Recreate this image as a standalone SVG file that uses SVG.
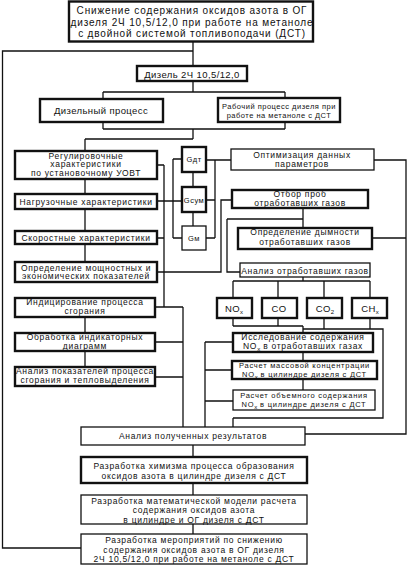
<svg xmlns="http://www.w3.org/2000/svg" width="409" height="567" viewBox="0 0 409 567">
<style>
  .bx{fill:#fff;stroke:#111;stroke-width:1.3}
  .bk{fill:#fff;stroke:#111;stroke-width:2.4}
  .ln{fill:none;stroke:#111;stroke-width:1.3}
  text{font-family:"Liberation Sans",Arial,sans-serif;fill:#111;text-anchor:middle}
  .t10{font-size:10px;letter-spacing:0.85px}
  .t9{font-size:9.5px;letter-spacing:0.4px}
  .t8{font-size:8.5px;letter-spacing:0.7px}
  .t7{font-size:7.5px;letter-spacing:0.5px}
  .t7w{font-size:7.5px;letter-spacing:0.75px}
  .sub{font-size:6px;letter-spacing:0}
</style>
<rect width="409" height="567" fill="#fff"/>
<g id="connectors" class="ln">
  <path d="M193 42V66M193 51H2.5V548H81"/>
  <path d="M193 81V92M103 92H285M103 92V99M285 92V98"/>
  <path d="M103 122V129M285 122V129M103 129H285M193 129V139M85 139H193M85 139V151"/>
  <path d="M85 179V194M85 209V231M85 244V262"/>
  <path d="M157 165H164M157 238H164M164 165V307M155 307H183M183 307V427M155 342H183M155 377H183"/>
  <path d="M157 201H182M173 159V238M173 159H182M173 238H182"/>
  <path d="M193 172V187M193 212V226"/>
  <path d="M206 160H231M215 160V238M206 200H215M206 238H215"/>
  <path d="M374 160H406V434H305M372 238H406"/>
  <path d="M232 200H221V272H157"/>
  <path d="M303 208V228M227 219H303M227 219V272H240"/>
  <path d="M303 277V281M233 281H370M233 281V298M278 281V298M324 281V298M370 281V298"/>
  <path d="M233 318V326M278 318V326M233 326H303M303 326V333M324 318V329M370 318V329M303 329H383V418H233M233 418V427"/>
  <path d="M303 352V361M303 379V390"/>
  <path d="M205 342V427M205 342H233M205 370H232M205 401H233"/>
  <path d="M85 317V333M85 351V367"/>
  <path d="M193 445V457M193 483V495M193 524V534"/>
</g>
<g id="n-top"><rect class="bk" x="69" y="1.5" width="244" height="40"/>
  <text class="t10" x="192" y="14">Снижение содержания оксидов азота в ОГ</text>
  <text class="t10" x="192" y="25.5">дизеля 2Ч 10,5/12,0 при работе на метаноле</text>
  <text class="t10" x="192" y="37">с двойной системой топливоподачи (ДСТ)</text></g>
<g id="n-diesel"><rect class="bk" x="137" y="66" width="110" height="15"/>
  <text class="t9" x="192" y="77.5">Дизель 2Ч 10,5/12,0</text></g>
<g id="n-dproc"><rect class="bk" x="40" y="99" width="123" height="23"/>
  <text class="t9" x="101" y="114">Дизельный процесс</text></g>
<g id="n-wproc"><rect class="bk" x="218" y="98" width="122" height="24"/>
  <text class="t7" x="279" y="108.5">Рабочий процесс дизеля при</text>
  <text class="t7" x="279" y="117.5">работе на метаноле с ДСТ</text></g>
<g id="n-reg"><rect class="bk" x="15" y="151" width="142" height="28"/>
  <text class="t8" x="86" y="158.5">Регулировочные</text>
  <text class="t8" x="86" y="167">характеристики</text>
  <text class="t8" x="86" y="175.5">по установочному УОВТ</text></g>
<g id="n-load"><rect class="bk" x="15" y="194" width="142" height="15"/>
  <text class="t8" x="86" y="205">Нагрузочные характеристики</text></g>
<g id="n-speed"><rect class="bk" x="15" y="231" width="142" height="13"/>
  <text class="t8" x="86" y="241">Скоростные характеристики</text></g>
<g id="n-power"><rect class="bk" x="15" y="262" width="142" height="20"/>
  <text class="t8" x="86" y="270.5">Определение мощностных и</text>
  <text class="t8" x="86" y="279">экономических показателей</text></g>
<g id="n-gdt"><rect class="bk" x="182" y="147" width="24" height="25"/>
  <text class="t7" x="194" y="162">Gдт</text></g>
<g id="n-gsum"><rect class="bk" x="182" y="187" width="24" height="25"/>
  <text class="t7" x="194" y="202.5">Gсум</text></g>
<g id="n-gm"><rect class="bx" x="182" y="226" width="24" height="24"/>
  <text class="t7" x="194" y="241">Gм</text></g>
<g id="n-opt"><rect class="bx" x="231" y="149" width="143" height="21"/>
  <text class="t8" x="302" y="158">Оптимизация данных</text>
  <text class="t8" x="302" y="166.5">параметров</text></g>
<g id="n-sample"><rect class="bk" x="232" y="190" width="136" height="18"/>
  <text class="t8" x="300" y="197">Отбор проб</text>
  <text class="t8" x="300" y="206">отработавших газов</text></g>
<g id="n-smoke"><rect class="bk" x="238" y="228" width="134" height="21"/>
  <text class="t8" x="305" y="235">Определение дымности</text>
  <text class="t8" x="305" y="244.5">отработавших газов</text></g>
<g id="n-gas"><rect class="bx" x="240" y="263" width="130" height="14"/>
  <text class="t8" x="305" y="273.5">Анализ отработавших газов</text></g>
<g id="n-nox"><rect class="bk" x="217" y="298" width="35" height="20"/>
  <text class="t9" x="234" y="311.5">NO<tspan class="sub" dy="2">x</tspan></text></g>
<g id="n-co"><rect class="bk" x="262" y="298" width="35" height="20"/>
  <text class="t9" x="279" y="311.5">CO</text></g>
<g id="n-co2"><rect class="bk" x="307" y="298" width="35" height="20"/>
  <text class="t9" x="325" y="311.5">CO<tspan class="sub" dy="2">2</tspan></text></g>
<g id="n-ch"><rect class="bk" x="352" y="298" width="35" height="20"/>
  <text class="t9" x="370" y="311.5">CH<tspan class="sub" dy="2">x</tspan></text></g>
<g id="n-study"><rect class="bk" x="233" y="333" width="140" height="19"/>
  <text class="t8" x="303" y="340">Исследование содержания</text>
  <text class="t8" x="303" y="349">NO<tspan class="sub" dy="1.5">x</tspan><tspan dy="-1.5"> в отработавших газах</tspan></text></g>
<g id="n-mass"><rect class="bk" x="232" y="361" width="145" height="18"/>
  <text class="t7w" x="304.5" y="368">Расчет массовой концентрации</text>
  <text class="t7w" x="304.5" y="377">NO<tspan class="sub" dy="1.5">x</tspan><tspan dy="-1.5"> в цилиндре дизеля с ДСТ</tspan></text></g>
<g id="n-vol"><rect class="bx" x="233" y="390" width="142" height="20"/>
  <text class="t7w" x="304" y="397.5">Расчет объемного содержания</text>
  <text class="t7w" x="304" y="407">NO<tspan class="sub" dy="1.5">x</tspan><tspan dy="-1.5"> в цилиндре дизеля с ДСТ</tspan></text></g>
<g id="n-ind"><rect class="bk" x="15" y="298" width="140" height="19"/>
  <text class="t8" x="85" y="305">Индицирование процесса</text>
  <text class="t8" x="85" y="314">сгорания</text></g>
<g id="n-diag"><rect class="bk" x="15" y="333" width="140" height="18"/>
  <text class="t8" x="85" y="339.5">Обработка индикаторных</text>
  <text class="t8" x="85" y="348.5">диаграмм</text></g>
<g id="n-heat"><rect class="bk" x="15" y="367" width="140" height="19"/>
  <text class="t8" x="85" y="373.5">Анализ показателей процесса</text>
  <text class="t8" x="85" y="382.5">сгорания и тепловыделения</text></g>
<g id="n-res"><rect class="bx" x="81" y="427" width="224" height="18"/>
  <text class="t8" x="193" y="439">Анализ полученных результатов</text></g>
<g id="n-chem"><rect class="bk" x="81" y="457" width="226" height="26"/>
  <text class="t8" x="194" y="468.5">Разработка химизма процесса образования</text>
  <text class="t8" x="194" y="478.5">оксидов азота в цилиндре дизеля с ДСТ</text></g>
<g id="n-model"><rect class="bx" x="81" y="495" width="226" height="29"/>
  <text class="t8" x="194" y="503.5">Разработка математической модели расчета</text>
  <text class="t8" x="194" y="513">содержания оксидов азота</text>
  <text class="t8" x="194" y="522.5">в цилиндре и ОГ дизеля с ДСТ</text></g>
<g id="n-measures"><rect class="bx" x="81" y="534" width="226" height="30"/>
  <text class="t8" x="194" y="543">Разработка мероприятий по снижению</text>
  <text class="t8" x="194" y="552.5">содержания оксидов азота в ОГ дизеля</text>
  <text class="t8" x="194" y="562">2Ч 10,5/12,0 при работе на метаноле с ДСТ</text></g>
</svg>
